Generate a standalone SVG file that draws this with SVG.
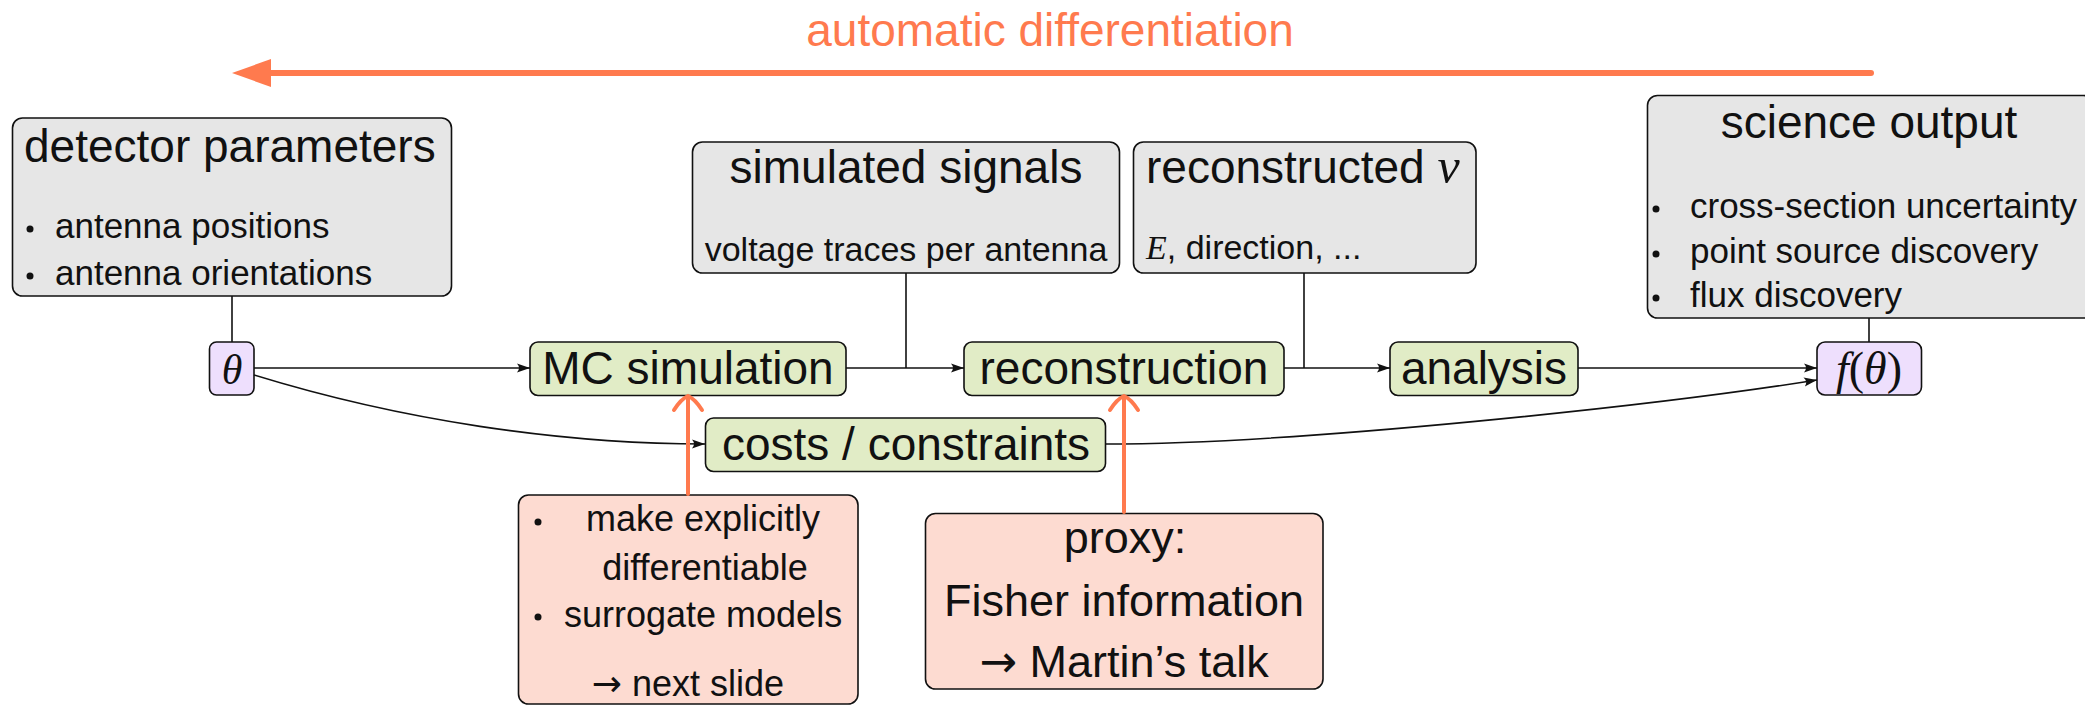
<svg xmlns="http://www.w3.org/2000/svg" width="2085" height="706" viewBox="0 0 2085 706">
<defs>
<style>
.box{stroke:#111;stroke-width:1.6}
.gray{fill:#E6E6E6}
.green{fill:#E1ECC6}
.lav{fill:#EEDFFD}
.pink{fill:#FDDBD1}
text{font-family:"Liberation Sans",Arial,sans-serif;fill:#111}
.t{font-size:46px}
.s{font-size:35px}
.p{font-size:36px}
.m{font-family:"Liberation Serif","Times New Roman",serif;font-style:italic}
.arr{font-family:"DejaVu Sans",sans-serif}
.conn{stroke:#111;stroke-width:1.6;fill:none}
.or{stroke:#FF7A4E;stroke-width:4;fill:none;stroke-linecap:round}
</style>
<marker id="ah" markerUnits="userSpaceOnUse" markerWidth="16" markerHeight="12" refX="13" refY="5" orient="auto">
<path d="M0,0.5 Q4,5 0,9.5 L13,5 Z" fill="#111"/>
</marker>
</defs>
<rect width="2085" height="706" fill="#fff"/>

<g id="autodiff">
<text x="1050" y="46" text-anchor="middle" style="font-size:46px;fill:#FF7A4E">automatic differentiation</text>
<line x1="1871" y1="73" x2="266" y2="73" stroke="#FF7A4E" stroke-width="6" stroke-linecap="round"/>
<polygon points="232,73 271,59 271,87" fill="#FF7A4E"/>
</g>

<g id="detector">
<rect class="box gray" x="12.5" y="118" width="439" height="178" rx="10"/>
<text class="t" x="24" y="162">detector parameters</text>
<circle cx="30" cy="229" r="3.5" fill="#111"/>
<text class="s" x="55" y="238">antenna positions</text>
<circle cx="30" cy="276" r="3.5" fill="#111"/>
<text class="s" x="55" y="285">antenna orientations</text>
</g>

<g id="theta">
<rect class="box lav" x="209.5" y="342" width="44.5" height="53" rx="7"/>
<text class="m" x="232" y="384" text-anchor="middle" style="font-size:42px">θ</text>
</g>

<g id="mcsim">
<rect class="box green" x="530" y="342" width="316" height="53.5" rx="8"/>
<text class="t" x="688" y="384" text-anchor="middle">MC simulation</text>
</g>

<g id="simsignals">
<rect class="box gray" x="692.5" y="142" width="427" height="131" rx="10"/>
<text class="t" x="906" y="183" text-anchor="middle">simulated signals</text>
<text class="s" x="906" y="261" text-anchor="middle" style="font-size:34px">voltage traces per antenna</text>
</g>

<g id="reconstruction">
<rect class="box green" x="964" y="342" width="320" height="53.5" rx="8"/>
<text class="t" x="1124" y="384" text-anchor="middle">reconstruction</text>
</g>

<g id="recnu">
<rect class="box gray" x="1133.5" y="142" width="342.5" height="131" rx="10"/>
<text class="t" x="1146" y="183">reconstructed <tspan class="m" style="font-size:50px">ν</tspan></text>
<text class="s" x="1146" y="259" style="font-size:34px"><tspan class="m">E</tspan>, direction, ...</text>
</g>

<g id="analysis">
<rect class="box green" x="1390" y="342" width="188" height="53.5" rx="8"/>
<text class="t" x="1484" y="384" text-anchor="middle">analysis</text>
</g>

<g id="science">
<rect class="box gray" x="1647.5" y="95.5" width="446" height="222.5" rx="10"/>
<text class="t" x="1869" y="138" text-anchor="middle">science output</text>
<circle cx="1656" cy="209" r="3.5" fill="#111"/>
<text class="s" x="1690" y="218">cross-section uncertainty</text>
<circle cx="1656" cy="254" r="3.5" fill="#111"/>
<text class="s" x="1690" y="263">point source discovery</text>
<circle cx="1656" cy="298" r="3.5" fill="#111"/>
<text class="s" x="1690" y="307">flux discovery</text>
</g>

<g id="ftheta">
<rect class="box lav" x="1817" y="342" width="104.5" height="53" rx="8"/>
<text class="m" x="1869" y="384" text-anchor="middle" style="font-size:46px">f<tspan style="font-style:normal">(</tspan>θ<tspan style="font-style:normal">)</tspan></text>
</g>

<g id="costs">
<rect class="box green" x="705.5" y="418" width="400" height="53.5" rx="8"/>
<text class="t" x="906" y="460" text-anchor="middle">costs / constraints</text>
</g>

<g id="makediff">
<rect class="box pink" x="518.5" y="495" width="339.5" height="209" rx="10"/>
<circle cx="538" cy="522" r="3.5" fill="#111"/>
<text class="p" x="586" y="531">make explicitly</text>
<text class="p" x="705" y="580" text-anchor="middle">differentiable</text>
<circle cx="538" cy="617" r="3.5" fill="#111"/>
<text class="p" x="564" y="627">surrogate models</text>
<text class="p" x="688" y="696" text-anchor="middle"><tspan class="arr">→</tspan> next slide</text>
</g>

<g id="proxy">
<rect class="box pink" x="925.5" y="513.5" width="397.5" height="175.5" rx="10"/>
<text x="1125" y="553" text-anchor="middle" style="font-size:45px">proxy:</text>
<text x="1124" y="616" text-anchor="middle" style="font-size:45px">Fisher information</text>
<text x="1124" y="677" text-anchor="middle" style="font-size:45px"><tspan class="arr">→</tspan> Martin’s talk</text>
</g>

<g id="connectors">
<line class="conn" x1="232" y1="296" x2="232" y2="342"/>
<line class="conn" x1="254" y1="368" x2="530" y2="368" marker-end="url(#ah)"/>
<line class="conn" x1="846" y1="368" x2="964" y2="368" marker-end="url(#ah)"/>
<line class="conn" x1="906" y1="273" x2="906" y2="368"/>
<line class="conn" x1="1284" y1="368" x2="1390" y2="368" marker-end="url(#ah)"/>
<line class="conn" x1="1304" y1="273" x2="1304" y2="368"/>
<line class="conn" x1="1578" y1="368" x2="1817" y2="368" marker-end="url(#ah)"/>
<line class="conn" x1="1869" y1="318" x2="1869" y2="342"/>
<path class="conn" d="M254,375 C400,420 560,444 705,444" marker-end="url(#ah)"/>
<path class="conn" d="M1106,444 C1300,444 1660,405 1817,380" marker-end="url(#ah)"/>
<line class="or" x1="688" y1="494" x2="688" y2="397"/>
<path class="or" d="M674,410 Q681,399 688,396 Q695,399 702,410"/>
<line class="or" x1="1124" y1="512" x2="1124" y2="397"/>
<path class="or" d="M1110,410 Q1117,399 1124,396 Q1131,399 1138,410"/>
</g>
</svg>
